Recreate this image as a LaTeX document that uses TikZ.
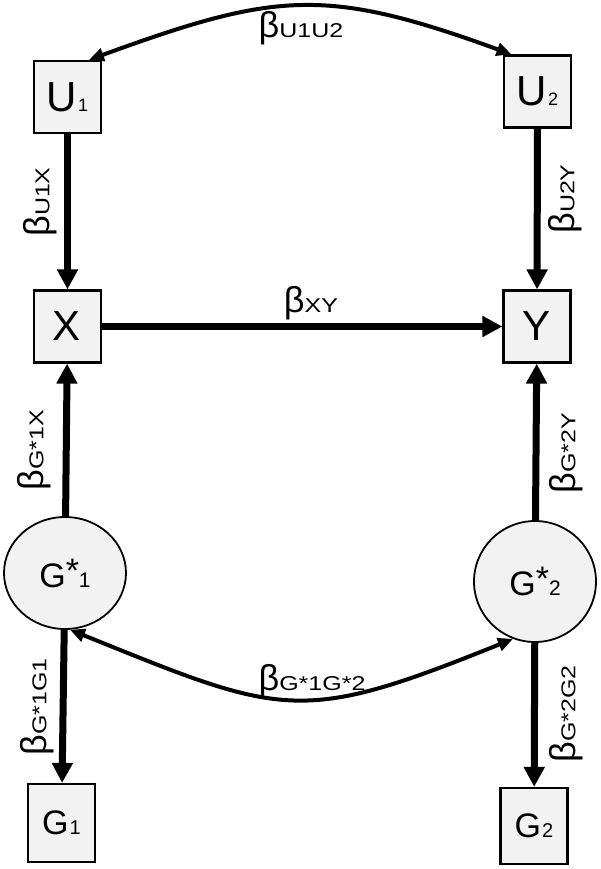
\documentclass[tikz,border=0pt]{standalone}
\usepackage{fontspec}
\setmainfont{Liberation Sans}
\usepackage{graphicx}
\usetikzlibrary{arrows.meta, shapes.geometric}

% text of the coefficients and the variables
\newcommand{\coef}[1]{{\fontsize{36}{36}\selectfont β}\scalebox{1.25}[1]{\fontsize{20}{20}\selectfont #1}}
\newcommand{\boxtxt}[2]{{\fontsize{42}{42}\selectfont #1}{\fontsize{18}{18}\selectfont\kern1pt #2}}
\newcommand{\gtxt}[1]{{\fontsize{34}{34}\selectfont G}{\fontsize{20}{20}\selectfont\kern1pt #1}}
\newcommand{\gstar}[1]{{\fontsize{34}{34}\selectfont G\raisebox{5pt}{*}}{\fontsize{21}{21}\selectfont #1}}

\begin{document}
\begin{tikzpicture}[x=1pt, y=1pt,
  obs/.style={draw, line width=2.2pt, fill=black!5, minimum width=67pt,
              minimum height=72pt, inner sep=0pt},
  latent/.style={draw, line width=1.8pt, fill=black!5, ellipse, inner sep=0pt},
  effect/.style={line width=7pt, -{Triangle[length=20pt, width=20pt]}},
  corr/.style={line width=4pt,
               {Triangle[length=15pt, width=13pt]}-{Triangle[length=15pt, width=13pt]}}
]
  \useasboundingbox (0,0) rectangle (600,-869);

  % variables
  \node[obs] (U1) at (67.5,-97) {\boxtxt{U}{1}};
  \node[obs] (U2) at (537.5,-91.5) {\boxtxt{U}{2}};
  \node[obs] (X) at (67.5,-326.5) {\boxtxt{X}{}};
  \node[obs] (Y) at (537,-326.5) {\boxtxt{Y}{}};
  \node[latent, minimum width=122pt, minimum height=112pt] (Gs1) at (65,-573) {\gstar{1}};
  \node[latent, minimum width=122pt, minimum height=121pt] (Gs2) at (535,-581.5) {\gstar{2}};
  \node[obs, minimum height=78pt] (G1) at (61.5,-823) {\gtxt{1}};
  \node[obs, minimum height=76pt] (G2) at (534,-826) {\gtxt{2}};

  % effects
  \draw[effect] (U1) -- (X);
  \draw[effect] (U2) -- (Y);
  \draw[effect] (X) -- (Y);
  \draw[effect] (Gs1) -- (X);
  \draw[effect] (Gs2) -- (Y);
  \draw[effect] (Gs1) -- (G1);
  \draw[effect] (Gs2) -- (G2);

  % correlations
  \draw[corr] (U1.60) to[out=20, in=160, looseness=1.2] (U2.125);
  \draw[corr] (Gs1.-85) to[out=-22, in=-158, looseness=1.33] (Gs2.-111);

  % coefficients
  \node[anchor=base] (lUU) at (301,-38) {\coef{U1U2}};
  \node[anchor=base] (lXY) at (311,-312) {\coef{XY}};
  \node[anchor=base] (lGG) at (312,-690) {\coef{G*1G*2}};
  \foreach \nm/\px/\py/\sub in {ux/40/202/U1X, uy/565/199/U2Y, gx/34/450/G*1X,
                                gy/566/453/G*2Y, gga/37/707/G*1G1, ggb/566/714/G*2G2}
    \node[rotate=90] (l\nm) at (\px,-\py) {\coef{\sub}};
\end{tikzpicture}
\end{document}
